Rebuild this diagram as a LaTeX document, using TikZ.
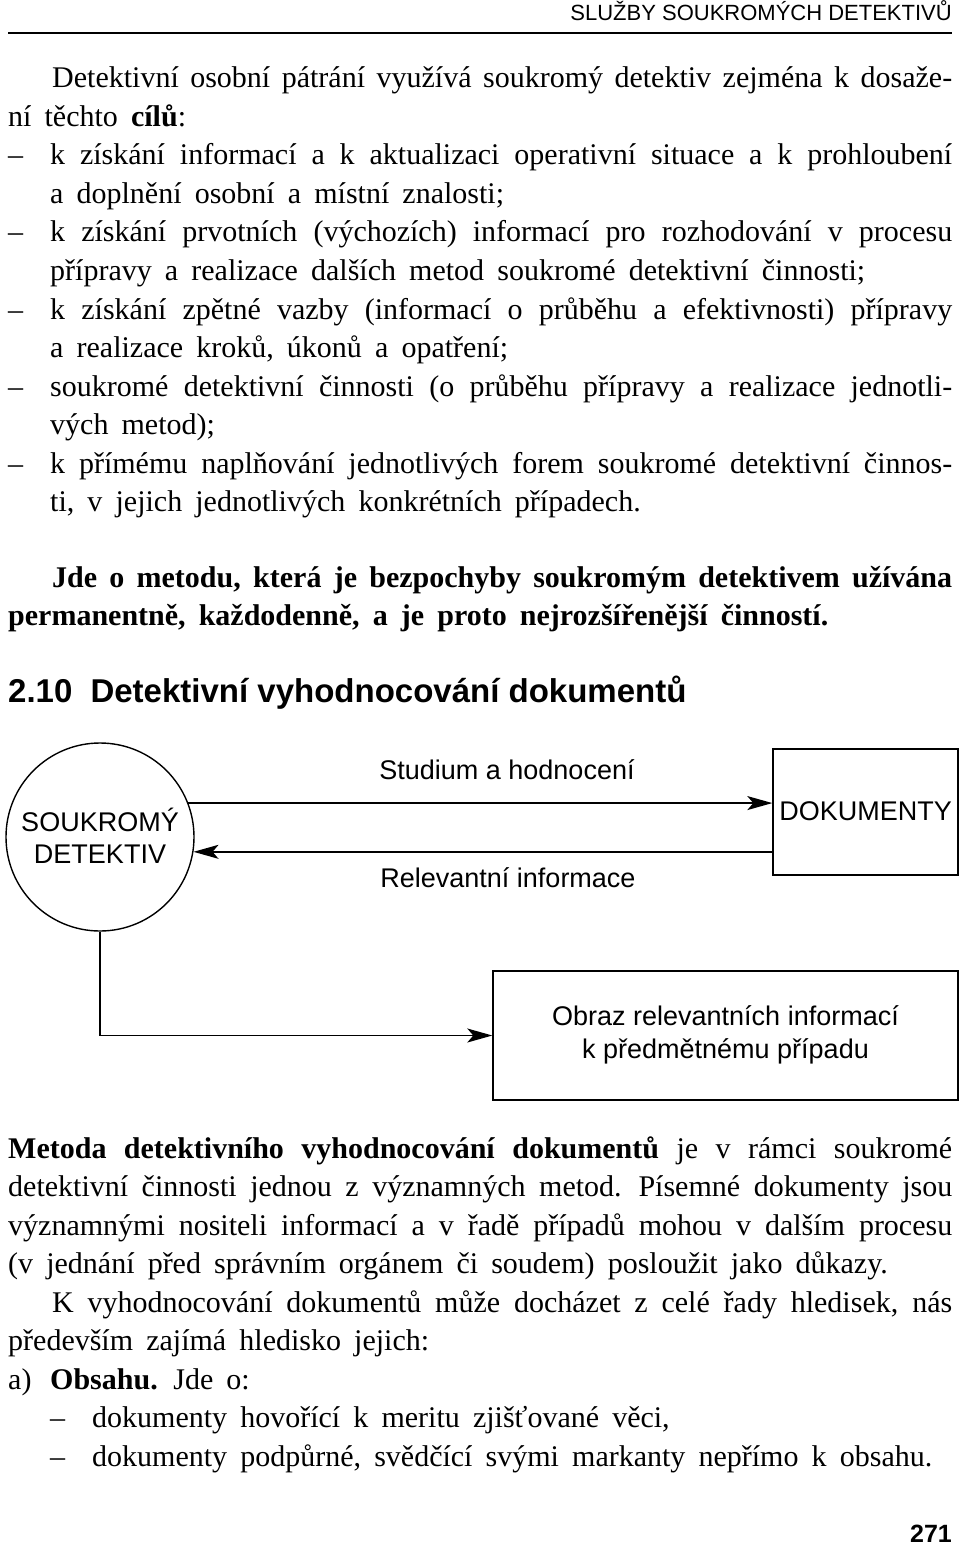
\documentclass[tikz,border=0pt]{standalone}
\usepackage{fontspec}
\setmainfont[WordSpace={1.75,1.2,1}]{Liberation Serif}
\setsansfont{Liberation Sans}
\usetikzlibrary{arrows.meta,calc}
\newcommand\jl[2]{\makebox[#1pt][s]{#2}}
\tikzset{
  txt/.style={anchor=base west,inner sep=0pt,font=\fontsize{30}{36}\selectfont},
  btxt/.style={txt,font=\fontsize{30}{36}\selectfont\bfseries},
  lab/.style={inner sep=0pt,font=\sffamily\fontsize{27}{32}\selectfont,align=center},
  shapeline/.style={draw,line width=1.4pt},
  arr/.style={line width=1.4pt,-{Stealth[length=25pt,width=14pt,inset=6pt]}}
}
\begin{document}
\begin{tikzpicture}[x=1pt,y=-1pt]
\useasboundingbox (0,0) rectangle (960,1546);
% header
\node[anchor=base east,inner sep=0pt,font=\sffamily\fontsize{22}{25}\selectfont] (hdr) at (952,21) {SLUŽBY SOUKROMÝCH DETEKTIVŮ};
\coordinate (rl) at (8,33);
\coordinate (rr) at (952,33);
\draw[line width=1.5pt] (rl) -- (rr);
% body text
\node[txt] (l1) at (52,88) {\jl{900}{Detektivní osobní pátrání využívá soukromý detektiv zejména k dosaže-}};
\node[txt] (l2) at (8,126.5) {ní těchto \textbf{cílů}:};
\node[txt] (d3) at (8,165) {–};
\node[txt] (l3) at (50,165) {\jl{902}{k získání informací a k aktualizaci operativní situace a k prohloubení}};
\node[txt] (l4) at (50,203.5) {a doplnění osobní a místní znalosti;};
\node[txt] (d5) at (8,242) {–};
\node[txt] (l5) at (50,242) {\jl{902}{k získání prvotních (výchozích) informací pro rozhodování v procesu}};
\node[txt] (l6) at (50,280.5) {přípravy a realizace dalších metod soukromé detektivní činnosti;};
\node[txt] (d7) at (8,319) {–};
\node[txt] (l7) at (50,319) {\jl{902}{k získání zpětné vazby (informací o průběhu a efektivnosti) přípravy}};
\node[txt] (l8) at (50,357.5) {a realizace kroků, úkonů a opatření;};
\node[txt] (d9) at (8,396) {–};
\node[txt] (l9) at (50,396) {\jl{902}{soukromé detektivní činnosti (o průběhu přípravy a realizace jednotli-}};
\node[txt] (l10) at (50,434.5) {vých metod);};
\node[txt] (d11) at (8,473) {–};
\node[txt] (l11) at (50,473) {\jl{902}{k přímému naplňování jednotlivých forem soukromé detektivní činnos-}};
\node[txt] (l12) at (50,511.5) {ti, v jejich jednotlivých konkrétních případech.};
\node[btxt] (l13) at (52,587) {\jl{900}{Jde o metodu, která je bezpochyby soukromým detektivem užívána}};
\node[btxt] (l14) at (8,625.5) {permanentně, každodenně, a je proto nejrozšířenější činností.};
\node[anchor=base west,inner sep=0pt,font=\sffamily\bfseries\fontsize{33}{36}\selectfont] (h) at (8,702) {2.10\hspace{0.55em}Detektivní vyhodnocování dokumentů};
% diagram
\node[shapeline,circle,minimum size=188pt,inner sep=0pt] (det) at (100,837) {};
\node[lab] (detl) at (100,836) {SOUKROMÝ\\DETEKTIV};
\node[shapeline,rectangle,minimum width=185pt,minimum height=126pt,inner sep=0pt] (doc) at (865.5,812) {};
\node[lab] (docl) at (865.5,811) {DOKUMENTY};
\node[shapeline,rectangle,minimum width=465pt,minimum height=129pt,inner sep=0pt] (obr) at (725.5,1035.5) {};
\node[lab,font=\sffamily\fontsize{27}{33.5}\selectfont] (obrl) at (725.5,1035) {Obraz relevantních informací\\k předmětnému případu};
\node[lab] (s1) at (507,770) {Studium a hodnocení};
\node[lab] (s2) at (508,878) {Relevantní informace};
\draw[arr] (det.21.9) -- (det.21.9 -| doc.west);
\draw[arr] (det.-9.2 -| doc.west) -- (det.-9.2);
\draw[arr] (det.south) |- (obr.west);
% lower text
\node[txt] (m1) at (8,1158) {\jl{944}{\textbf{Metoda detektivního vyhodnocování dokumentů} je v rámci soukromé}};
\node[txt] (m2) at (8,1196.5) {\jl{944}{detektivní činnosti jednou z významných metod. Písemné dokumenty jsou}};
\node[txt] (m3) at (8,1235) {\jl{944}{významnými nositeli informací a v řadě případů mohou v dalším procesu}};
\node[txt] (m4) at (8,1273.5) {(v jednání před správním orgánem či soudem) posloužit jako důkazy.};
\node[txt] (m5) at (52,1312) {\jl{900}{K vyhodnocování dokumentů může docházet z celé řady hledisek, nás}};
\node[txt] (m6) at (8,1350.5) {především zajímá hledisko jejich:};
\node[txt] (m7a) at (8,1389) {a)};
\node[txt] (m7) at (50,1389) {\textbf{Obsahu.} Jde o:};
\node[txt] (d8) at (50,1427.5) {–};
\node[txt] (m8) at (92,1427.5) {dokumenty hovořící k meritu zjišťované věci,};
\node[txt] (d9b) at (50,1466) {–};
\node[txt] (m9) at (92,1466) {dokumenty podpůrné, svědčící svými markanty nepřímo k obsahu.};
\node[anchor=base east,inner sep=0pt,font=\sffamily\bfseries\fontsize{25}{28}\selectfont] (pg) at (952,1542) {271};
\end{tikzpicture}
\end{document}
